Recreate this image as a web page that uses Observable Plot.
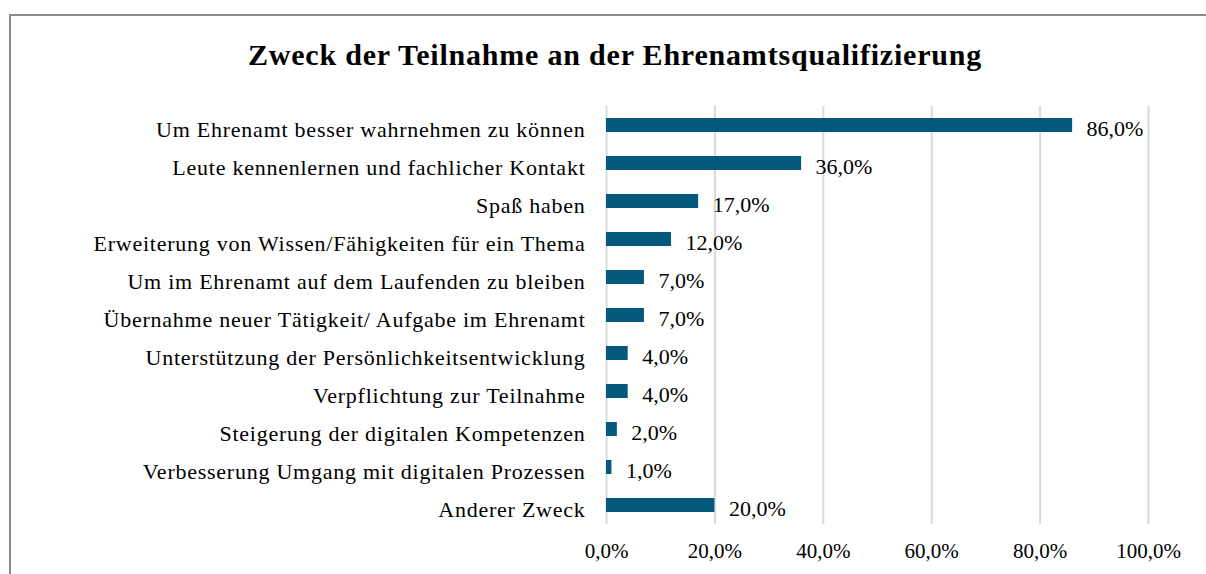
<!DOCTYPE html>
<html>
<head>
<meta charset="utf-8">
<script src="https://cdn.jsdelivr.net/npm/d3@7"></script>
<script src="https://cdn.jsdelivr.net/npm/@observablehq/plot@0.6"></script>
<style>
  html, body { margin: 0; padding: 0; background: #fff; width: 1206px; height: 574px; overflow: hidden; }
  #frame { position: absolute; left: 9px; top: 14px; width: 1260px; height: 640px; border: 2px solid #8c8c8c; box-sizing: border-box; }
  #title { position: absolute; left: 0; width: 1230px; top: 40px; line-height: 30px; text-align: center; font-family: "Liberation Serif", serif; font-weight: bold; font-size: 30px; letter-spacing: 0.8px; color: #000; }
  #chart { position: absolute; left: 0; top: 90px; }
  #chart svg g[aria-label="y-axis tick label"] text { letter-spacing: 0.75px; }
</style>
</head>
<body>
<div id="frame"></div>
<div id="title">Zweck der Teilnahme an der Ehrenamtsqualifizierung</div>
<div id="chart"></div>
<script>
const categories = [
  "Um Ehrenamt besser wahrnehmen zu können",
  "Leute kennenlernen und fachlicher Kontakt",
  "Spaß haben",
  "Erweiterung von Wissen/Fähigkeiten für ein Thema",
  "Um im Ehrenamt auf dem Laufenden zu bleiben",
  "Übernahme neuer Tätigkeit/ Aufgabe im Ehrenamt",
  "Unterstützung der Persönlichkeitsentwicklung",
  "Verpflichtung zur Teilnahme",
  "Steigerung der digitalen Kompetenzen",
  "Verbesserung Umgang mit digitalen Prozessen",
  "Anderer Zweck"
];
const values = [86, 36, 17, 12, 7, 7, 4, 4, 2, 1, 20];
const xTicks = [0, 20, 40, 60, 80, 100];

const data = categories.map((c, i) => ({category: c, value: values[i]}));
const fmt = v => v.toFixed(1).replace(".", ",") + "%";

const chart = Plot.plot({
  width: 1206,
  height: 484,
  marginLeft: 606,
  marginRight: 58,
  marginTop: 16,
  marginBottom: 50,
  style: { fontFamily: "Liberation Serif, serif", fontSize: "21px", color: "#000", background: "transparent" },
  x: { domain: [0, 100], label: null },
  y: { domain: categories, paddingInner: 0.63, paddingOuter: 0.315, label: null },
  marks: [
    Plot.gridX(xTicks, { stroke: "#d9d9d9", strokeOpacity: 1, strokeWidth: 2 }),
    Plot.axisX(xTicks, { tickFormat: fmt, tickSize: 0, tickPadding: 19, fontSize: 21, label: null }),
    Plot.axisY({ tickSize: 0, tickPadding: 21, fontSize: 22, dy: 4, label: null }),
    Plot.barX(data, { x: "value", y: "category", fill: "#03587c" }),
    Plot.text(data, { x: "value", y: "category", text: d => fmt(d.value), textAnchor: "start", dx: 14, dy: 3, fontSize: 22, fill: "#000" })
  ]
});
document.getElementById("chart").appendChild(chart);
</script>
</body>
</html>
